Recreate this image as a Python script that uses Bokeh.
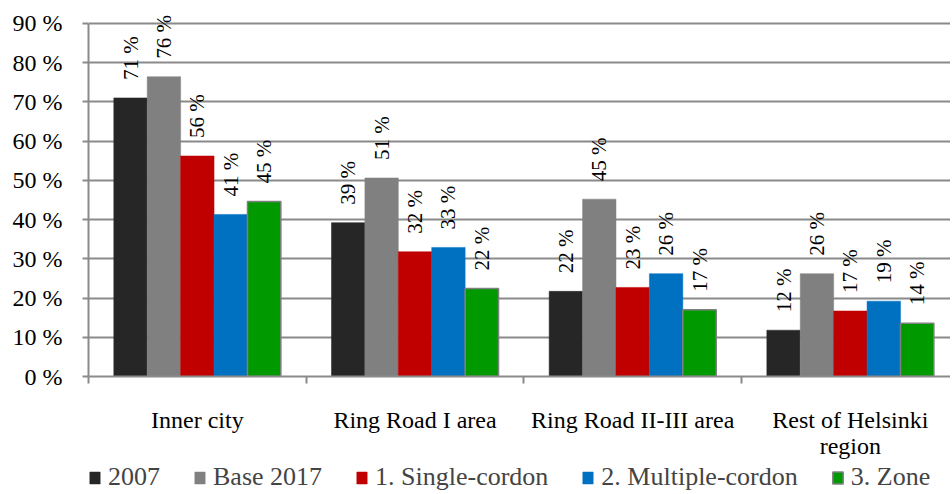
import numpy as np
from bokeh.plotting import figure
from bokeh.layouts import column
from bokeh.models import ColumnDataSource, Range1d, FixedTicker, Legend, LegendItem
from bokeh.core.properties import value
from bokeh.embed import file_html
from bokeh.resources import INLINE

categories = ["Inner city", "Ring Road I area", "Ring Road II-III area", "Rest of Helsinki\nregion"]
series_names = ["2007", "Base 2017", "1. Single-cordon", "2. Multiple-cordon", "3. Zone"]
v2007 = [71.0, 39.2, 21.7, 11.8]
vbase2017 = [76.4, 50.6, 45.2, 26.2]
vsingle = [56.2, 31.8, 22.7, 16.7]
vmultiple = [41.3, 32.9, 26.2, 19.2]
vzone = [44.6, 22.4, 17.0, 13.6]
y_ticks = [0, 10, 20, 30, 40, 50, 60, 70, 80, 90]
y_tick_labels = ["0 %", "10 %", "20 %", "30 %", "40 %", "50 %", "60 %", "70 %", "80 %", "90 %"]

series_values = [v2007, vbase2017, vsingle, vmultiple, vzone]
colors = ["#262626", "#808080", "#C00000", "#0070C0", "#009900"]
outlines = [None, None, None, None, "#808080"]

FONT = "Liberation Serif"
GRAY = "#8a8a8a"
W = 950

p = figure(width=W, height=461, output_backend="svg", toolbar_location=None,
           x_range=Range1d(0, 3.96), y_range=Range1d(0, 94.04),
           min_border_left=88, min_border_right=0, min_border_top=7, min_border_bottom=82)
p.outline_line_color = None
p.background_fill_color = "white"

# y axis
p.yaxis.ticker = FixedTicker(ticks=y_ticks)
p.yaxis.major_label_overrides = {t: l for t, l in zip(y_ticks, y_tick_labels)}
p.yaxis.bounds = (0, 90)
p.yaxis.axis_line_color = GRAY
p.yaxis.axis_line_width = 2
p.yaxis.major_tick_line_color = GRAY
p.yaxis.major_tick_line_width = 2
p.yaxis.major_tick_out = 6
p.yaxis.major_tick_in = 0
p.yaxis.minor_tick_line_color = None
p.yaxis.major_label_standoff = 20
p.yaxis.major_label_text_font = FONT
p.yaxis.major_label_text_font_size = "24px"
p.yaxis.major_label_text_color = "black"

p.ygrid.ticker = FixedTicker(ticks=y_ticks)
p.ygrid.grid_line_color = GRAY
p.ygrid.grid_line_width = 2
p.xgrid.visible = False

# x axis: labels at category centres, ticks at boundaries
n = len(categories)
centers = [i + 0.5 for i in range(n)]
p.xaxis.ticker = FixedTicker(ticks=centers, minor_ticks=list(range(n + 1)))
p.xaxis.major_label_overrides = {c: lab for c, lab in zip(centers, categories)}
p.xaxis.axis_line_color = GRAY
p.xaxis.axis_line_width = 2
p.xaxis.major_tick_line_color = None
p.xaxis.major_tick_out = 6
p.xaxis.minor_tick_line_color = GRAY
p.xaxis.minor_tick_line_width = 2
p.xaxis.minor_tick_out = 7
p.xaxis.minor_tick_in = 0
p.xaxis.major_label_standoff = 23
p.xaxis.major_label_text_font = FONT
p.xaxis.major_label_text_font_size = "24px"
p.xaxis.major_label_text_line_height = 1.0
p.xaxis.major_label_text_color = "black"

bar_w = 0.1535

# legend-only strip below the chart
lg = figure(width=W, height=31, output_backend="svg", toolbar_location=None,
            x_range=Range1d(0, 1), y_range=Range1d(0, 1),
            x_axis_location=None, y_axis_location=None, min_border=0,
            min_border_left=0, min_border_right=0, min_border_top=0, min_border_bottom=0)
lg.outline_line_color = None
lg.xgrid.visible = False
lg.ygrid.visible = False

items = []
for j, (name, vals, col, oc) in enumerate(zip(series_names, series_values, colors, outlines)):
    xs = [c + (j - 2) * bar_w for c in centers]
    src = ColumnDataSource(dict(x=xs, top=vals, label=[f"{round(v)} %" for v in vals]))
    lc = oc if oc else col
    lw = 1.5 if oc else 0.5
    p.vbar(x="x", top="top", width=bar_w, source=src, fill_color=col,
           line_color=lc, line_width=lw)
    p.text(x="x", y="top", text="label", source=src, angle=np.pi / 2,
           text_align="left", text_baseline="middle", y_offset=-18,
           text_font=value(FONT), text_font_size="21px", text_color="black")
    # legend proxy renderer (its single bar lies outside the strip's visible range)
    proxy = lg.vbar(x=[-5], top=[0], width=0.1, fill_color=col, line_color=lc, line_width=lw)
    items.append(LegendItem(label=name, renderers=[proxy]))

legend = Legend(items=items, orientation="horizontal", location=(0, 0),
                label_text_font=FONT, label_text_font_size="26px",
                glyph_width=13, glyph_height=15, label_standoff=7, spacing=33,
                padding=0, margin=0, border_line_color=None, background_fill_alpha=0)
lg.add_layout(legend, "center")

layout = column(p, lg, spacing=0)
open("out.html", "w").write(file_html(layout, INLINE))
